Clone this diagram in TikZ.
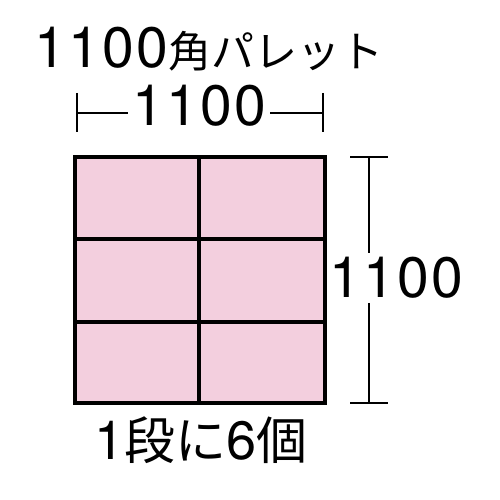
\documentclass[tikz,border=0pt]{standalone}
\usepackage{fontspec}
\setmainfont{TeX Gyre Heros}[LetterSpace=4]
\newfontfamily\jpfont{Noto Sans CJK JP}
\usepackage{xcolor}
\usetikzlibrary{calc}
\definecolor{palletpink}{RGB}{243,207,222}
\tikzset{
	cell/.style={fill=palletpink,draw=black,line width=3.2pt},
	dimline/.style={line width=2.2pt},
	bigtxt/.style={inner sep=4pt,font=\fontsize{57}{57}\selectfont}
}
\newcommand{\jp}[2]{{\jpfont\fontsize{#1}{#1}\selectfont #2}}

\begin{document}
\begin{tikzpicture}[x=1pt,y=-1pt]
	\useasboundingbox (0,0) rectangle (500,500);
	% pallet, 2 x 3 boxes
	\foreach \xa/\xb in {75/199,199/325}
		\foreach \ya/\yb in {157/239,239/322,322/403}
			\draw[cell] (\xa,\ya) rectangle (\xb,\yb);
	% title
	\node[bigtxt] (title) at (209,49) {1100\jp{43}{角パレット}};
	% width
	\coordinate (wl) at (77,113);
	\coordinate (wr) at (323,113);
	\node[bigtxt] (wtxt) at (199,106) {1100};
	\draw[dimline] ($(wl)+(0,-20)$) -- ($(wl)+(0,19)$);
	\draw[dimline] ($(wr)+(0,-20)$) -- ($(wr)+(0,19)$);
	\draw[dimline] (wl) -- (wl -| wtxt.west);
	\draw[dimline] (wr -| wtxt.east) -- (wr);
	% height
	\coordinate (ht) at (369,157);
	\coordinate (hb) at (369,403);
	\node[bigtxt] (htxt) at (396,278) {1100};
	\draw[dimline] ($(ht)+(-19,0)$) -- ($(ht)+(19,0)$);
	\draw[dimline] ($(hb)+(-19,0)$) -- ($(hb)+(19,0)$);
	\draw[dimline] (ht) -- (ht |- htxt.north);
	\draw[dimline] (hb |- htxt.south) -- (hb);
	% count
	\node[bigtxt,font=\fontsize{54}{54}\selectfont] (count) at (201,440) {1\jp{51}{段に}6\jp{51}{個}};
\end{tikzpicture}
\end{document}
